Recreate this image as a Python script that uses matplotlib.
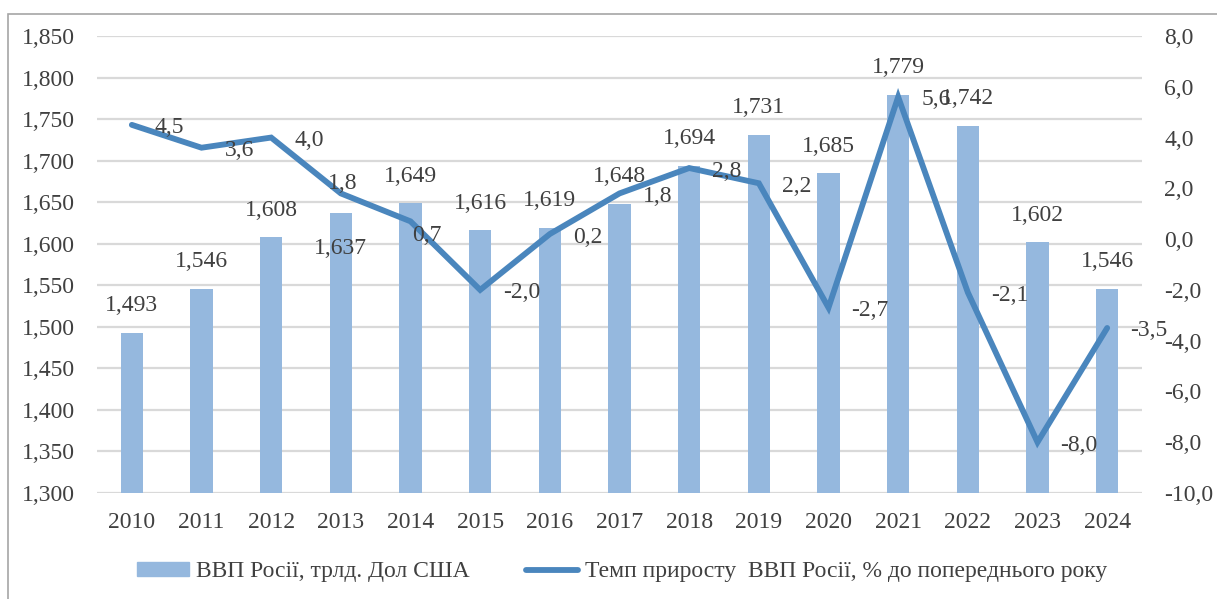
import numpy as np
import matplotlib
matplotlib.use("Agg")
import matplotlib.pyplot as plt
from matplotlib.patches import Rectangle
from matplotlib.lines import Line2D
from matplotlib.ticker import FuncFormatter

#In[]:
years = ["2010", "2011", "2012", "2013", "2014", "2015", "2016", "2017",
         "2018", "2019", "2020", "2021", "2022", "2023", "2024"]
gdp = [1.493, 1.546, 1.608, 1.637, 1.649, 1.616, 1.619, 1.648,
       1.694, 1.731, 1.685, 1.779, 1.742, 1.602, 1.546]
growth = [4.5, 3.6, 4.0, 1.8, 0.7, -2.0, 0.2, 1.8,
          2.8, 2.2, -2.7, 5.6, -2.1, -8.0, -3.5]
bar_name = "ВВП Росії, трлд. Дол США"
line_name = "Темп приросту  ВВП Росії, % до попереднього року"

bar_color = "#95B8DE"
line_color = "#4A86BD"
text_color = "#404040"
grid_color = "#D9D9D9"
fs = 17

plt.rcParams['font.family'] = ['Liberation Serif', 'DejaVu Serif']
plt.rcParams['font.size'] = fs

#In[]:
fig = plt.figure(figsize=(12.17, 5.99), dpi=100)
ax = fig.add_axes([97/1217, 1-493/599, (1142-97)/1217, (493-36)/599])
ax2 = ax.twinx()

x = np.arange(len(years))
ax.bar(x, gdp, width=0.32, color=bar_color, zorder=2)
ax.set_ylim(1.3, 1.85)
ax.set_yticks(np.arange(1.3, 1.851, 0.05))
ax.set_xlim(-0.5, len(years) - 0.5)
ax.set_xticks(x)
ax.set_xticklabels(years)
ax.yaxis.set_major_formatter(FuncFormatter(lambda v, p: f"{v:.3f}".replace(".", ",")))
ax.grid(axis='y', color=grid_color, linewidth=1.6, zorder=0)
ax.set_axisbelow(True)

ax2.plot(x, growth, color=line_color, linewidth=4.2, solid_capstyle='round',
         solid_joinstyle='miter', zorder=3)
ax2.set_ylim(-10, 8)
ax2.set_yticks(np.arange(-10, 8.1, 2))
ax2.yaxis.set_major_formatter(FuncFormatter(lambda v, p: f"{v:.1f}".replace(".", ",")))

for a in (ax, ax2):
    for s in a.spines.values():
        s.set_visible(False)
    a.tick_params(length=0, colors=text_color, labelsize=fs)
ax.tick_params(axis='y', pad=16)
ax2.tick_params(axis='y', pad=16)
ax.tick_params(axis='x', pad=14)

# bar labels
for i, v in enumerate(gdp):
    dy = 27
    if years[i] == "2013":
        dy = -36
    ax.annotate(f"{v:.3f}".replace(".", ","), (x[i], v), xytext=(0, dy),
                textcoords='offset pixels', ha='center', va='center',
                color=text_color, fontsize=fs, zorder=4)

# line labels (mostly to the right of the point)
for i, v in enumerate(growth):
    dx, dy, ha = 23, -3, 'left'
    if years[i] == "2013":
        dx, dy, ha = 2, 10, 'center'
    if years[i] == "2014":
        dx, dy, ha = 2, -14, 'left'
    ax2.annotate(f"{v:.1f}".replace(".", ","), (x[i], v), xytext=(dx, dy),
                 textcoords='offset pixels', ha=ha, va='center',
                 color=text_color, fontsize=fs, zorder=5)

#In[]:
handles = [Rectangle((0, 0), 1, 1, color=bar_color),
           Line2D([0], [0], color=line_color, linewidth=4.2, solid_capstyle='round')]
fig.legend(handles, [bar_name, line_name], loc='center', bbox_to_anchor=(0.511, 1-572/599),
           ncol=2, frameon=False, handlelength=2.2, handleheight=0.55, handletextpad=0.3,
           columnspacing=2.4, labelcolor=text_color, fontsize=fs)

# chart border
fig.patches.append(Rectangle((8/1217, -0.2), 1.2, 1.2 - 14/599, transform=fig.transFigure,
                             fill=False, edgecolor="#A6A6A6", linewidth=1.2))

fig.savefig("out.png", dpi=100)
